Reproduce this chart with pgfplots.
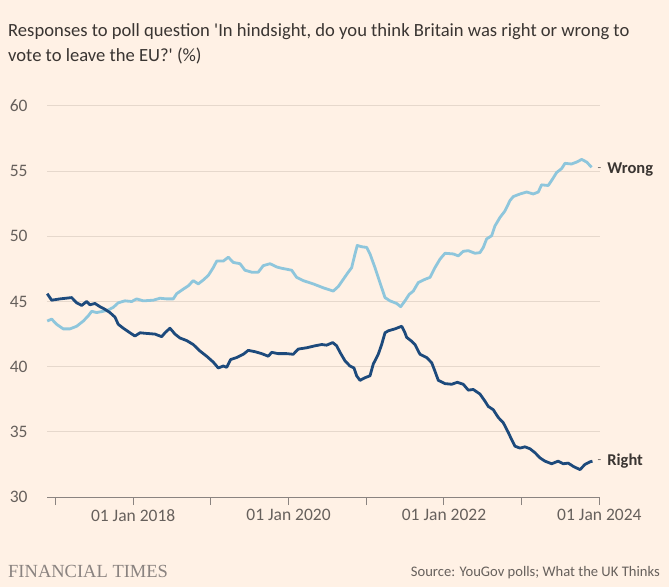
\documentclass[border=0pt]{standalone}
\usepackage{pgfplots}
\pgfplotsset{compat=1.18}
\usepackage{fontspec}
\setmainfont{Carlito}
\newfontfamily\ftserif{Liberation Serif}
\definecolor{ftbg}{HTML}{FFF1E5}
\definecolor{ftgrid}{HTML}{E6D8CC}
\definecolor{ftaxis}{HTML}{8A8380}
\definecolor{fttick}{HTML}{66605C}
\definecolor{fttext}{HTML}{3A3532}
\definecolor{rightc}{HTML}{1D4A7C}
\definecolor{wrongc}{HTML}{8EC6DC}
\begin{document}
\begin{tikzpicture}
\useasboundingbox (0pt,0pt) rectangle (669pt,587pt);
\fill[ftbg] (0pt,0pt) rectangle (669pt,587pt);
\node[anchor=base west,inner sep=0pt,text=fttext,font=\fontsize{18.6}{18.6}\selectfont] at (8pt,550.3pt) {Responses to poll question \textquotesingle In hindsight, do you think Britain was right or wrong to};
\node[anchor=base west,inner sep=0pt,text=fttext,font=\fontsize{18.6}{18.6}\selectfont] at (8pt,525.3pt) {vote to leave the EU?\textquotesingle\ (\%)};
\node[anchor=base west,inner sep=0pt,text=ftaxis,font=\ftserif\fontsize{18.5}{18.5}\selectfont] at (8pt,9.7pt) {FINANCIAL TIMES};
\node[anchor=base east,inner sep=0pt,text=fttick,font=\fontsize{14.6}{14.6}\selectfont] at (660pt,10.3pt) {Source: YouGov polls; What the UK Thinks};
\begin{axis}[
  at={(47pt,90pt)}, anchor=south west,
  scale only axis, width=553pt, height=391pt,
  xmin=2016.891, xmax=2024.008, ymin=30, ymax=60,
  axis x line*=bottom, axis y line*=left,
  y axis line style={draw=none},
  x axis line style={draw=ftaxis,line width=1pt},
  ytick={30,35,...,60},
  xtick={2017,2018,...,2024},
  xticklabels={,01 Jan 2018,,01 Jan 2020,,01 Jan 2022,,01 Jan 2024},
  ymajorgrids, grid style={draw=ftgrid,line width=1pt},
  ytick style={draw=none},
  xtick style={draw=ftaxis,line width=1pt},
  tick align=outside, major tick length=8pt,
  /pgf/number format/assume math mode=true,
  ticklabel style={font=\fontsize{17.5}{17.5}\selectfont,text=fttick},
  yticklabel style={xshift=-8pt},
  xticklabel style={yshift=-1pt},
  clip=false,
]
\addplot[wrongc,line width=2.8pt,line join=round] coordinates {
(2016.894,43.5)(2016.951,43.65)(2017.015,43.25)(2017.100,42.9)(2017.187,42.9)
(2017.273,43.1)(2017.358,43.5)(2017.422,43.9)(2017.466,44.25)(2017.530,44.15)
(2017.615,44.25)(2017.680,44.35)(2017.744,44.55)(2017.808,44.9)(2017.894,45.05)
(2017.981,45.0)(2018.045,45.2)(2018.130,45.05)(2018.259,45.1)(2018.345,45.25)
(2018.431,45.2)(2018.516,45.2)(2018.560,45.6)(2018.645,45.95)(2018.709,46.2)
(2018.773,46.6)(2018.838,46.35)(2018.902,46.65)(2018.967,47.0)(2019.031,47.6)
(2019.075,48.1)(2019.117,48.1)(2019.160,48.1)(2019.224,48.4)(2019.288,48.0)
(2019.375,47.9)(2019.439,47.4)(2019.525,47.25)(2019.610,47.25)(2019.674,47.75)
(2019.761,47.9)(2019.847,47.65)(2019.911,47.55)(2020.040,47.4)(2020.104,46.85)
(2020.189,46.6)(2020.318,46.35)(2020.447,46.05)(2020.575,45.8)(2020.640,46.15)
(2020.704,46.7)(2020.768,47.25)(2020.812,47.6)(2020.855,48.65)(2020.884,49.3)
(2020.941,49.2)(2021.005,49.15)(2021.048,48.65)(2021.112,47.6)(2021.176,46.45)
(2021.241,45.3)(2021.305,45.05)(2021.391,44.85)(2021.443,44.6)(2021.498,45.05)
(2021.553,45.55)(2021.605,45.8)(2021.669,46.45)(2021.755,46.7)(2021.820,46.85)
(2021.884,47.6)(2021.949,48.25)(2022.013,48.7)(2022.120,48.65)(2022.184,48.5)
(2022.248,48.85)(2022.313,48.9)(2022.399,48.7)(2022.463,48.75)(2022.506,49.15)
(2022.549,49.8)(2022.614,50.05)(2022.656,50.8)(2022.721,51.45)(2022.785,51.95)
(2022.850,52.75)(2022.892,53.05)(2022.978,53.25)(2023.064,53.4)(2023.149,53.25)
(2023.214,53.4)(2023.256,53.95)(2023.342,53.9)(2023.398,54.4)(2023.450,54.9)
(2023.515,55.2)(2023.557,55.6)(2023.641,55.55)(2023.708,55.7)(2023.772,55.9)
(2023.836,55.7)(2023.900,55.3)
};
\addplot[rightc,line width=2.8pt,line join=round] coordinates {
(2016.894,45.6)(2016.951,45.1)(2017.058,45.2)(2017.208,45.3)(2017.273,44.9)
(2017.337,44.7)(2017.402,45.0)(2017.444,44.75)(2017.508,44.85)(2017.573,44.6)
(2017.637,44.4)(2017.701,44.15)(2017.766,43.8)(2017.808,43.25)(2017.873,42.95)
(2017.959,42.6)(2018.023,42.35)(2018.088,42.6)(2018.174,42.55)(2018.281,42.5)
(2018.367,42.3)(2018.409,42.6)(2018.474,42.95)(2018.538,42.5)(2018.602,42.2)
(2018.689,42.0)(2018.773,41.7)(2018.860,41.2)(2018.946,40.8)(2019.031,40.35)
(2019.095,39.9)(2019.160,40.05)(2019.203,39.95)(2019.255,40.55)(2019.332,40.7)
(2019.417,40.95)(2019.481,41.25)(2019.568,41.15)(2019.654,41.0)(2019.739,40.8)
(2019.783,41.1)(2019.867,41.0)(2019.976,41.0)(2020.060,40.95)(2020.125,41.35)
(2020.233,41.45)(2020.340,41.6)(2020.426,41.7)(2020.490,41.65)(2020.568,41.85)
(2020.619,41.6)(2020.662,41.1)(2020.726,40.45)(2020.790,40.05)(2020.842,39.9)
(2020.876,39.3)(2020.919,38.95)(2020.983,39.15)(2021.048,39.3)(2021.090,40.2)
(2021.154,40.95)(2021.198,41.7)(2021.241,42.6)(2021.283,42.75)(2021.369,42.9)
(2021.412,43.0)(2021.456,43.1)(2021.498,42.6)(2021.520,42.25)(2021.584,41.95)
(2021.627,41.7)(2021.691,40.95)(2021.777,40.7)(2021.842,40.3)(2021.884,39.65)
(2021.927,38.95)(2022.013,38.7)(2022.099,38.65)(2022.171,38.8)(2022.248,38.65)
(2022.313,38.2)(2022.377,38.25)(2022.463,37.9)(2022.528,37.35)(2022.570,36.95)
(2022.634,36.7)(2022.699,36.1)(2022.763,35.7)(2022.828,34.95)(2022.871,34.4)
(2022.914,33.9)(2022.978,33.75)(2023.042,33.85)(2023.107,33.7)(2023.171,33.4)
(2023.236,33.0)(2023.300,32.75)(2023.386,32.55)(2023.470,32.75)(2023.535,32.55)
(2023.599,32.6)(2023.664,32.35)(2023.750,32.1)(2023.815,32.5)(2023.879,32.7)
(2023.911,32.75)
};
\node[anchor=west,inner sep=0pt,text=fttick,font=\fontsize{12}{12}\selectfont] at (axis cs:2023.975,55.1) {-};
\node[anchor=west,inner sep=0pt,text=fttext,font=\bfseries\fontsize{16.5}{16.5}\selectfont] at (axis cs:2024.10,55.1) {Wrong};
\node[anchor=west,inner sep=0pt,text=fttick,font=\fontsize{12}{12}\selectfont] at (axis cs:2023.975,32.75) {-};
\node[anchor=west,inner sep=0pt,text=fttext,font=\bfseries\fontsize{16.5}{16.5}\selectfont] at (axis cs:2024.10,32.75) {Right};
\end{axis}
\end{tikzpicture}
\end{document}
